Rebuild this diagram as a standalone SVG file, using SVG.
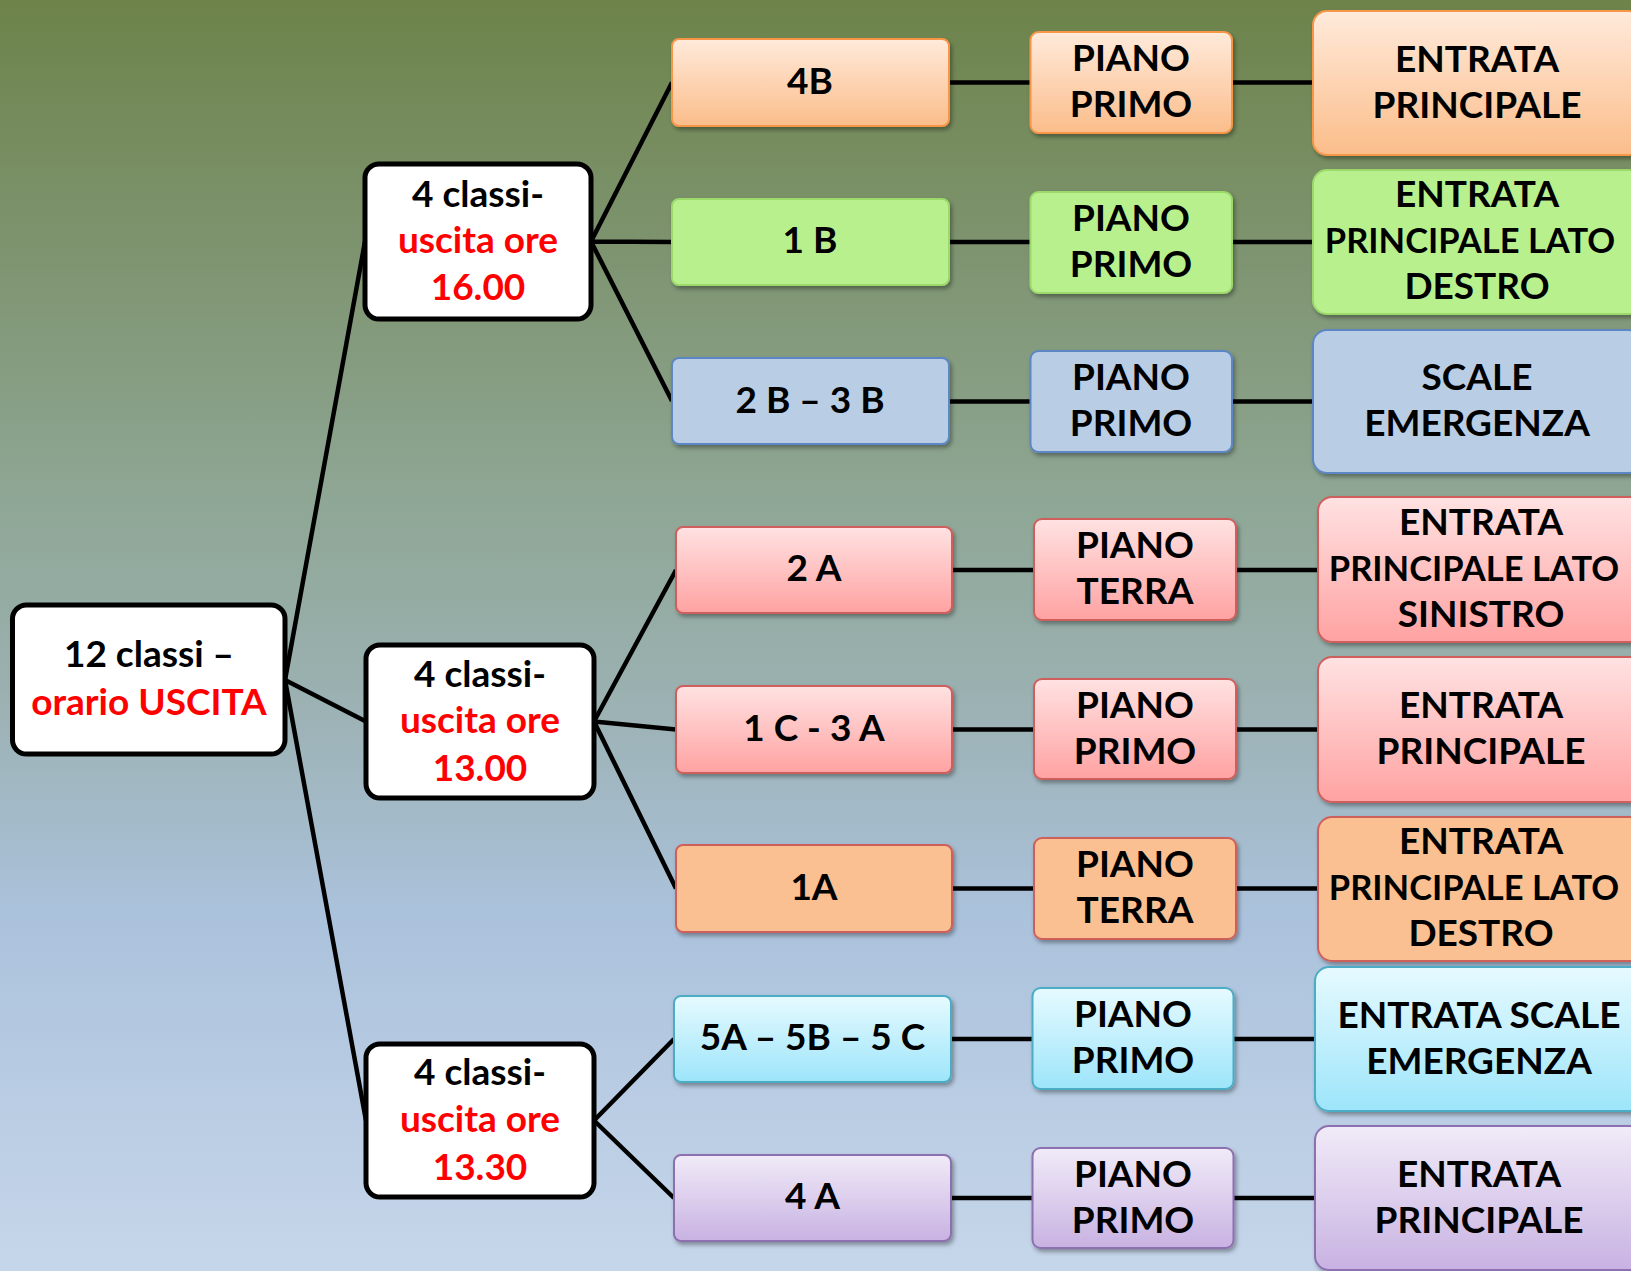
<svg xmlns="http://www.w3.org/2000/svg" width="1631" height="1271" viewBox="0 0 1631 1271">
<defs>
<linearGradient id="bg" x1="0" y1="0" x2="0" y2="1">
<stop offset="0" stop-color="#6D834A"/>
<stop offset="0.2" stop-color="#7E9470"/>
<stop offset="0.4" stop-color="#8FA796"/>
<stop offset="0.55" stop-color="#9BB1B2"/>
<stop offset="0.72" stop-color="#ABC2DC"/>
<stop offset="1" stop-color="#C6D6EA"/>
</linearGradient>
<linearGradient id="gOrange" x1="0" y1="0" x2="0" y2="1"><stop offset="0" stop-color="#FFEADB"/><stop offset="1" stop-color="#FBBD8A"/></linearGradient>
<linearGradient id="gPink" x1="0" y1="0" x2="0" y2="1"><stop offset="0" stop-color="#FFE2E2"/><stop offset="1" stop-color="#FFA2A2"/></linearGradient>
<linearGradient id="gCyan" x1="0" y1="0" x2="0" y2="1"><stop offset="0" stop-color="#E6FAFF"/><stop offset="1" stop-color="#9DE5FA"/></linearGradient>
<linearGradient id="gPurple" x1="0" y1="0" x2="0" y2="1"><stop offset="0" stop-color="#F1EBF8"/><stop offset="1" stop-color="#C8B2E2"/></linearGradient>
<filter id="sh" x="-10%" y="-10%" width="130%" height="140%"><feDropShadow dx="2" dy="3" stdDeviation="2" flood-color="#000" flood-opacity="0.35"/></filter>
</defs>
<style>
text { font-family: Lato, "Liberation Sans", sans-serif; font-weight: bold; font-size: 37px; text-anchor: middle; fill: #000; }
.red { fill: #FF0000; }
.long { font-size: 34.5px; }
.conn { stroke: #000; stroke-width: 4.5; fill: none; }
.mid { fill: #fff; stroke: #000; stroke-width: 5; }
.box { stroke-width: 2; filter: url(#sh); }
.orange { fill: url(#gOrange); stroke: #F79646; }
.green { fill: #B9F08E; stroke: #9BD96A; }
.blue { fill: #B9CDE5; stroke: #5B87C4; }
.pink { fill: url(#gPink); stroke: #CF5F5C; }
.peach { fill: #FAC091; stroke: #CF5F5A; }
.cyan { fill: url(#gCyan); stroke: #4BACC6; }
.purple { fill: url(#gPurple); stroke: #8C6FB0; }
</style>
<rect x="0" y="0" width="1631" height="1271" fill="url(#bg)"/>

<g id="connectors">
<path class="conn" d="M285 680 L365 241.5 M285 680 L366 721.5 M285 680 L366 1120.5"/>
<path class="conn" d="M591 241.5 L672 82.5 M591 241.5 L672 242 M591 241.5 L672 401"/>
<path class="conn" d="M594 721.5 L676 570 M594 721.5 L676 729.5 M594 721.5 L676 888.5"/>
<path class="conn" d="M594 1120.5 L674 1039 M594 1120.5 L674 1198"/>
<path class="conn" d="M949 82.5 H1031 M949 242 H1031 M949 401.5 H1031 M952 570 H1034 M952 729.5 H1034 M952 888.5 H1034 M951 1039 H1033 M951 1198 H1033"/>
<path class="conn" d="M1232 82.5 H1313 M1232 242 H1313 M1232 401.5 H1313 M1236 570 H1318 M1236 729.5 H1318 M1236 888.5 H1318 M1233.5 1039 H1315 M1233.5 1198 H1315"/>
</g>

<g id="root">
<rect class="mid" x="12.5" y="605" width="272.5" height="149" rx="14"/>
<text x="149" y="667">12 classi –</text>
<text x="149" y="715" class="red">orario USCITA</text>
</g>

<g id="mid-1600">
<rect class="mid" x="365" y="164" width="226" height="155" rx="14"/>
<text x="478" y="207">4 classi-</text>
<text x="478" y="253" class="red">uscita ore</text>
<text x="478" y="300" class="red">16.00</text>
</g>
<g id="mid-1300">
<rect class="mid" x="366" y="645" width="228" height="153" rx="14"/>
<text x="480" y="687">4 classi-</text>
<text x="480" y="733" class="red">uscita ore</text>
<text x="480" y="781" class="red">13.00</text>
</g>
<g id="mid-1330">
<rect class="mid" x="366" y="1044" width="228" height="153" rx="14"/>
<text x="480" y="1085">4 classi-</text>
<text x="480" y="1132" class="red">uscita ore</text>
<text x="480" y="1180" class="red">13.30</text>
</g>

<g id="c-4B"><rect class="box orange" x="672" y="39" width="277" height="87" rx="7"/><text x="810" y="93.5">4B</text></g>
<g id="c-1B"><rect class="box green" x="672" y="199" width="277" height="86" rx="7"/><text x="810" y="253">1 B</text></g>
<g id="c-2B3B"><rect class="box blue" x="672" y="358" width="277" height="86" rx="7"/><text x="810" y="412.5">2 B – 3 B</text></g>
<g id="c-2A"><rect class="box pink" x="676" y="527" width="276" height="86" rx="7"/><text x="814" y="581">2 A</text></g>
<g id="c-1C3A"><rect class="box pink" x="676" y="686" width="276" height="87" rx="7"/><text x="814" y="740.5">1 C - 3 A</text></g>
<g id="c-1A"><rect class="box peach" x="676" y="845" width="276" height="87" rx="7"/><text x="814" y="899.5">1A</text></g>
<g id="c-5A5B5C"><rect class="box cyan" x="674" y="996" width="277" height="86" rx="7"/><text x="812.5" y="1050">5A – 5B – 5 C</text></g>
<g id="c-4A"><rect class="box purple" x="674" y="1155" width="277" height="86" rx="7"/><text x="812.5" y="1209">4 A</text></g>

<g id="p-4B"><rect class="box orange" x="1030.5" y="32" width="201.5" height="101" rx="8"/><text x="1131" y="71">PIANO</text><text x="1131" y="117">PRIMO</text></g>
<g id="p-1B"><rect class="box green" x="1030.5" y="192" width="201.5" height="101" rx="8"/><text x="1131" y="231">PIANO</text><text x="1131" y="277">PRIMO</text></g>
<g id="p-2B3B"><rect class="box blue" x="1030.5" y="351" width="201.5" height="101" rx="8"/><text x="1131" y="390">PIANO</text><text x="1131" y="436">PRIMO</text></g>
<g id="p-2A"><rect class="box pink" x="1034" y="519" width="202" height="101" rx="8"/><text x="1135" y="558">PIANO</text><text x="1135" y="604">TERRA</text></g>
<g id="p-1C3A"><rect class="box pink" x="1034" y="679" width="202" height="100" rx="8"/><text x="1135" y="717.5">PIANO</text><text x="1135" y="763.5">PRIMO</text></g>
<g id="p-1A"><rect class="box peach" x="1034" y="838" width="202" height="101" rx="8"/><text x="1135" y="877">PIANO</text><text x="1135" y="923">TERRA</text></g>
<g id="p-5A5B5C"><rect class="box cyan" x="1032.5" y="988" width="201" height="101" rx="8"/><text x="1133" y="1027">PIANO</text><text x="1133" y="1073">PRIMO</text></g>
<g id="p-4A"><rect class="box purple" x="1032.5" y="1148" width="201" height="100" rx="8"/><text x="1133" y="1186.5">PIANO</text><text x="1133" y="1232.5">PRIMO</text></g>

<g id="e-4B"><rect class="box orange" x="1313" y="11" width="330" height="144" rx="14"/><text x="1477" y="71.5">ENTRATA</text><text x="1477" y="117.5">PRINCIPALE</text></g>
<g id="e-1B"><rect class="box green" x="1313" y="170" width="330" height="144" rx="14"/><text x="1477" y="207">ENTRATA</text><text class="long" x="1470" y="253">PRINCIPALE LATO</text><text x="1477" y="299">DESTRO</text></g>
<g id="e-2B3B"><rect class="box blue" x="1313" y="330" width="330" height="143" rx="14"/><text x="1477" y="390">SCALE</text><text x="1477" y="436">EMERGENZA</text></g>
<g id="e-2A"><rect class="box pink" x="1318" y="497" width="330" height="145" rx="14"/><text x="1481" y="534.5">ENTRATA</text><text class="long" x="1474" y="580.5">PRINCIPALE LATO</text><text x="1481" y="626.5">SINISTRO</text></g>
<g id="e-1C3A"><rect class="box pink" x="1318" y="657" width="330" height="145" rx="14"/><text x="1481" y="718">ENTRATA</text><text x="1481" y="764">PRINCIPALE</text></g>
<g id="e-1A"><rect class="box peach" x="1318" y="817" width="330" height="144" rx="14"/><text x="1481" y="854">ENTRATA</text><text class="long" x="1474" y="900">PRINCIPALE LATO</text><text x="1481" y="946">DESTRO</text></g>
<g id="e-5A5B5C"><rect class="box cyan" x="1315" y="967" width="330" height="144" rx="14"/><text x="1479" y="1027.5">ENTRATA SCALE</text><text x="1479" y="1073.5">EMERGENZA</text></g>
<g id="e-4A"><rect class="box purple" x="1315" y="1126" width="330" height="144" rx="14"/><text x="1479" y="1186.5">ENTRATA</text><text x="1479" y="1232.5">PRINCIPALE</text></g>
</svg>
